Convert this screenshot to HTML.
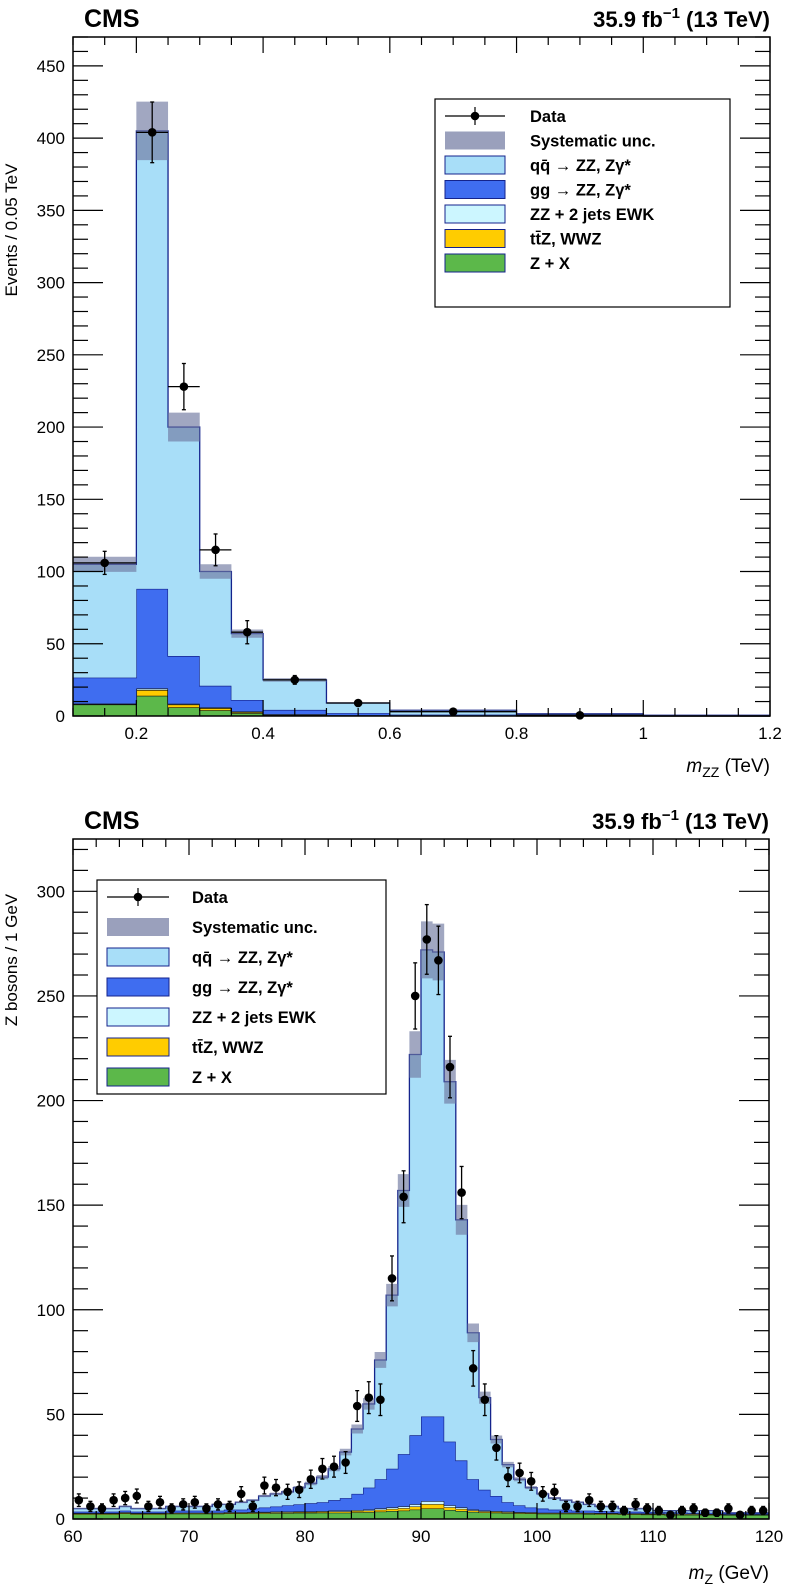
<!DOCTYPE html>
<html><head><meta charset="utf-8"><style>
body{margin:0;background:#fff;}
svg{display:block;font-family:"Liberation Sans",sans-serif;}
</style></head><body>
<svg id="root" width="786" height="1585" viewBox="0 0 786 1585" xmlns="http://www.w3.org/2000/svg">
<g id="p1"></g>
<g id="p2"></g>
</svg>
<script>
// ---- Panel 1 data (m_ZZ) ----
const zzEdges = [0.1,0.2,0.25,0.3,0.35,0.4,0.5,0.6,0.8,1.0,1.2];
const zzZX   = [8,14,6,4,2,0.6,0.2,0.1,0.05,0.02];
const zzTTZ  = [0.3,4,2,1.5,0.8,0.3,0.1,0.05,0.02,0.01];
const zzEWK  = [0.3,1,0.5,0.4,0.3,0.3,0.2,0.1,0.05,0.02];
const zzGG   = [18,69,33,15,8,3,1.5,0.7,0.3,0.1];
const zzQQ   = [78.4,317,158.5,79.1,45.9,20.8,7,3.05,1.08,0.35];
const zzData = [106,404,228,115,58,25,9,3,0.5,null];
const zzErr  = [8,21,16,11,8,3,1.5,0.6,0.3,0];
const zzXTicks = [0.2,0.4,0.6,0.8,1,1.2];
const zzXTickLabels = ["0.2","0.4","0.6","0.8","1","1.2"];
const zzYTicks = [0,50,100,150,200,250,300,350,400,450];

// ---- Panel 2 data (m_Z) ----
const zEdgesStart = 60, zEdgesEnd = 120;
const zTotal = [5,5,5,5,6,5,5,5,6,6,6,6,7,7,8,9,11,12,13,15,17,20,24,32,43,55,76,107,157,222,272,271,209,143,89,58,38,26,19,15,12,10,9,8,7,6,6,5,5,5,4,4,4,4,4,4,3,3,3,3];
const zGGTop = [3.5,3.5,3.5,3.5,4,3.5,3.5,3.5,4,4,4,4,4,4.5,4.5,5,5.5,6,6.5,7,7.5,8,9,10,12,15,19,24,31,40,49,49,37,28,19,14,11,8,6.5,5.5,5,4.5,4.5,4,4,3.8,3.6,3.5,3.5,3.4,3.3,3.2,3.1,3,3,3,2.8,2.8,2.8,2.8];
const zLowTop = [2.8,2.8,2.8,2.8,3.2,2.8,2.8,2.8,3,3,3,3,3,3.2,3.2,3.3,3.4,3.5,3.5,3.6,3.6,3.8,4,4,4.3,4.5,5,5.5,6,7,8.5,8.5,6.5,5.5,4.5,4,3.8,3.5,3.3,3.2,3,3,3,3,2.9,2.8,2.8,2.7,2.7,2.6,2.6,2.5,2.5,2.5,2.4,2.4,2.3,2.3,2.3,2.3];
const zZXTop = [2.3,2.3,2.3,2.3,2.6,2.3,2.3,2.3,2.5,2.5,2.5,2.5,2.5,2.6,2.6,2.7,2.7,2.8,2.8,2.9,2.9,3,3,3,3.2,3.3,3.5,3.8,4,4.5,5,5,4.3,3.8,3.4,3.1,3,2.8,2.7,2.6,2.5,2.5,2.5,2.5,2.4,2.3,2.3,2.2,2.2,2.1,2.1,2,2,2,2,2,1.9,1.9,1.9,1.9];
const zData = [9,6,5,9,10,11,6,8,5,7,8,5,7,6,12,6,16,15,13,14,19,24,25,27,54,58,57,115,154,250,277,267,216,156,72,57,34,20,22,18,12,13,6,6,9,6,6,4,7,5,4,2,4,5,3,3,5,2,4,4];
const zXTicks = [60,70,80,90,100,110,120];
const zYTicks = [0,50,100,150,200,250,300];

const NS="http://www.w3.org/2000/svg";
function mk(parent,tag,attrs,text){const e=document.createElementNS(NS,tag);for(const k in attrs)e.setAttribute(k,attrs[k]);if(text!==undefined)e.textContent=text;parent.appendChild(e);return e;}

const C={qq:"#a8def8",gg:"#3f6df0",ewk:"#ccf6ff",ttz:"#ffcc00",zx:"#5cb84a",sys:"rgba(110,120,160,0.65)",line:"#14238c"};

function stepPath(edges,lo,hi,X,Y){
  let d="M"+X(edges[0])+","+Y(lo[0]);
  for(let i=0;i<hi.length;i++){d+=" L"+X(edges[i])+","+Y(hi[i])+" L"+X(edges[i+1])+","+Y(hi[i]);}
  for(let i=hi.length-1;i>=0;i--){d+=" L"+X(edges[i+1])+","+Y(lo[i])+" L"+X(edges[i])+","+Y(lo[i]);}
  return d+"Z";
}
function topLine(edges,hi,X,Y){
  let d="M"+X(edges[0])+","+Y(hi[0]);
  for(let i=0;i<hi.length;i++){d+=" L"+X(edges[i])+","+Y(hi[i])+" L"+X(edges[i+1])+","+Y(hi[i]);}
  return d;
}

function drawPanel(g,cfg){
  const {L,R,T,B,xmin,xmax,ymin,ymax}=cfg;
  const X=v=>L+(v-xmin)/(xmax-xmin)*(R-L);
  const Y=v=>B-(Math.max(v,ymin)-ymin)/(ymax-ymin)*(B-T);
  const edges=cfg.edges, n=edges.length-1;
  const zero=new Array(n).fill(0);
  const layers=cfg.layers;
  let prev=zero;
  const stackG=mk(g,"g",{});
  
  
  layers.forEach(ly=>{
    const p=mk(stackG,"path",{d:stepPath(edges,prev,ly.top,X,Y),fill:ly.color,stroke:"none"});
    
    
    const ln=mk(stackG,"path",{d:topLine(edges,ly.top,X,Y),fill:"none",stroke:ly.lineColor||C.line,"stroke-width":ly.lw||1.3});
    
    
    prev=ly.top;
  });
  const tot=prev;
  const lo=tot.map(v=>v*0.95), hi=tot.map(v=>v*1.05);
  const sb=mk(g,"path",{d:stepPath(edges,lo,hi,X,Y),fill:C.sys,stroke:"none"});
  
  
  const dg=mk(g,"g",{});
  
  
  cfg.data.forEach((v,i)=>{
    if(v===null)return;
    const cx=X((edges[i]+edges[i+1])/2), cy=Y(v);
    const e=cfg.err[i];
    if(cfg.xerr){mk(dg,"line",{x1:X(edges[i]),x2:X(edges[i+1]),y1:cy,y2:cy,stroke:"#000","stroke-width":1.3});}
    if(e>0){
      mk(dg,"line",{x1:cx,x2:cx,y1:Y(v+e),y2:Y(v-e),stroke:"#000","stroke-width":1.3});
      mk(dg,"line",{x1:cx-2,x2:cx+2,y1:Y(v+e),y2:Y(v+e),stroke:"#000","stroke-width":1.3});
      mk(dg,"line",{x1:cx-2,x2:cx+2,y1:Y(v-e),y2:Y(v-e),stroke:"#000","stroke-width":1.3});
    }
    const c=mk(dg,"circle",{cx:cx,cy:cy,r:4.3,fill:"#000"});
    
    
  });
  const fr=mk(g,"rect",{x:L,y:T,width:R-L,height:B-T,fill:"none",stroke:"#000","stroke-width":1.5});
  
  
  for(let v=xmin;v<=xmax+1e-9;v+=cfg.xminor){
    const isMaj=cfg.xTicks.some(t=>Math.abs(t-v)<1e-6);
    const len=isMaj?16:8, x=X(v);
    mk(g,"line",{x1:x,x2:x,y1:B,y2:B-len,stroke:"#000","stroke-width":1.2});
    mk(g,"line",{x1:x,x2:x,y1:T,y2:T+len,stroke:"#000","stroke-width":1.2});
  }
  cfg.xTicks.forEach((t,i)=>{
    const tl=mk(g,"text",{x:X(t),y:B+23,"font-size":17,"text-anchor":"middle"},cfg.xLabels[i]);
    
    
  });
  for(let v=ymin;v<=ymax+1e-9;v+=cfg.yminor){
    const isMaj=cfg.yTicks.some(t=>Math.abs(t-v)<1e-6);
    const len=isMaj?30:15, y=Y(v);
    mk(g,"line",{x1:L,x2:L+len,y1:y,y2:y,stroke:"#000","stroke-width":1.2});
    mk(g,"line",{x1:R,x2:R-len,y1:y,y2:y,stroke:"#000","stroke-width":1.2});
  }
  cfg.yTicks.forEach(t=>{
    const tl=mk(g,"text",{x:L-8,y:Y(t)+6,"font-size":17,"text-anchor":"end"},String(t));
    
    
  });
}

function legend(g,x,y,w,h,rowH,boxX,boxW,textX,first){
  const lg=mk(g,"g",{});
  
  
  mk(lg,"rect",{x:x,y:y,width:w,height:h,fill:"#fff",stroke:"#000","stroke-width":1.2});
  const items=[
    {t:"Data",type:"data"},
    {t:"Systematic unc.",type:"sys"},
    {t:"q\u0071\u0304 \u2192 ZZ, Z\u03B3*",c:C.qq},
    {t:"gg \u2192 ZZ, Z\u03B3*",c:C.gg},
    {t:"ZZ + 2 jets EWK",c:C.ewk},
    {t:"t\u0074\u0304Z, WWZ",c:C.ttz},
    {t:"Z + X",c:C.zx}
  ];
  items.forEach((it,i)=>{
    const cy=y+first+i*rowH;
    const e=mk(lg,"g",{});
    
    
    if(it.type==="data"){
      const cx=boxX+boxW/2;
      mk(e,"line",{x1:boxX,x2:boxX+boxW,y1:cy,y2:cy,stroke:"#000","stroke-width":1.2});
      mk(e,"line",{x1:cx,x2:cx,y1:cy-9,y2:cy+9,stroke:"#000","stroke-width":1.2});
      mk(e,"circle",{cx:cx,cy:cy,r:4.3,fill:"#000"});
    }else if(it.type==="sys"){
      mk(e,"rect",{x:boxX,y:cy-9,width:boxW,height:18,fill:"#9aa0bc"});
    }else{
      mk(e,"rect",{x:boxX,y:cy-9,width:boxW,height:18,fill:it.c,stroke:C.line,"stroke-width":1});
    }
    mk(e,"text",{x:textX,y:cy+6,"font-size":16.5,"font-weight":"bold"},it.t);
  });
}

function header(g,yb,xl,xr){
  const a=mk(g,"text",{x:xl,y:yb,"font-size":25,"font-weight":"bold"},"CMS");
  
  const b=mk(g,"text",{x:xr,y:yb,"font-size":22,"font-weight":"bold","text-anchor":"end"});
  
  mk(b,"tspan",{},"35.9 fb");
  mk(b,"tspan",{dy:-9,"font-size":15},"\u22121");
  mk(b,"tspan",{dy:9}," (13 TeV)");
}

function cum(arrs){const out=[];let run=arrs[0].map(()=>0);arrs.forEach(a=>{run=run.map((v,i)=>v+a[i]);out.push(run.slice());});return out;}

// Panel 1
const p1=document.getElementById("p1");
const c1=cum([zzZX,zzTTZ,zzEWK,zzGG,zzQQ]);
drawPanel(p1,{L:73,R:770,T:37,B:716,xmin:0.1,xmax:1.2,ymin:0,ymax:470,edges:zzEdges,
  layers:[{name:"zx-hist",top:c1[0],color:C.zx,lineColor:"#111"},{name:"ttz-hist",top:c1[1],color:C.ttz,lineColor:"#111"},{name:"ewk-hist",top:c1[2],color:C.ewk,lineColor:"#111"},{name:"gg-hist",top:c1[3],color:C.gg},{name:"qq-hist",top:c1[4],color:C.qq}],
  data:zzData,err:zzErr,xerr:true,xTicks:zzXTicks,xLabels:zzXTickLabels,xminor:0.05,yTicks:zzYTicks,yminor:10});
legend(p1,435,99,295,208,24.5,445,60,530,17);
header(p1,27,84,770);
const yt1=mk(p1,"text",{transform:"translate(17,230) rotate(-90)","font-size":17,"text-anchor":"middle"},"Events / 0.05 TeV");

const xt1=mk(p1,"text",{x:770,y:772,"font-size":19,"text-anchor":"end"});

mk(xt1,"tspan",{"font-style":"italic"},"m");mk(xt1,"tspan",{dy:5,"font-size":14},"ZZ");mk(xt1,"tspan",{dy:-5}," (TeV)");

// Panel 2
const p2=document.getElementById("p2");
const zEdges=[];for(let v=zEdgesStart;v<=zEdgesEnd;v++)zEdges.push(v);
const zEwkTop=zLowTop.map(v=>v);
const zTtzTop=zLowTop.map((v,i)=>zZXTop[i]+(v-zZXTop[i])*0.6);
drawPanel(p2,{L:73,R:769,T:839,B:1519,xmin:60,xmax:120,ymin:0,ymax:325,edges:zEdges,
  layers:[{name:"zx-hist",top:zZXTop,color:C.zx,lineColor:"#111",lw:1},{name:"ttz-hist",top:zTtzTop,color:C.ttz,lineColor:"#111",lw:1},{name:"ewk-hist",top:zEwkTop,color:C.ewk,lineColor:"#111",lw:1},{name:"gg-hist",top:zGGTop,color:C.gg},{name:"qq-hist",top:zTotal,color:C.qq}],
  data:zData,err:zData.map(v=>Math.sqrt(v)),xerr:false,xTicks:zXTicks,xLabels:zXTicks.map(String),xminor:2,yTicks:zYTicks,yminor:10});
legend(p2,97,880,289,214,30,107,62,192,17);
header(p2,829,84,769);
const yt2=mk(p2,"text",{transform:"translate(17,960) rotate(-90)","font-size":17,"text-anchor":"middle"},"Z bosons / 1 GeV");

const xt2=mk(p2,"text",{x:769,y:1579,"font-size":19,"text-anchor":"end"});

mk(xt2,"tspan",{"font-style":"italic"},"m");mk(xt2,"tspan",{dy:5,"font-size":14},"Z");mk(xt2,"tspan",{dy:-5}," (GeV)");
</script>
</body></html>
